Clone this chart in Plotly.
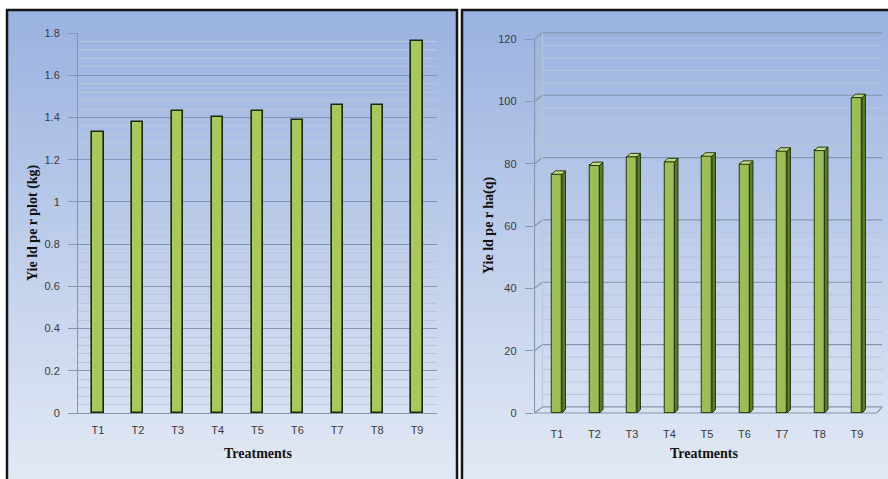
import plotly.graph_objects as go

# ---- data -------------------------------------------------------------
treatments = ["T1", "T2", "T3", "T4", "T5", "T6", "T7", "T8", "T9"]
yield_per_plot = [1.33, 1.38, 1.43, 1.40, 1.43, 1.39, 1.46, 1.46, 1.76]   # kg
yield_per_ha = [76.6, 79.4, 82.2, 80.6, 82.4, 79.8, 84.0, 84.2, 101.2]    # q

plot_ticks = [0, 0.2, 0.4, 0.6, 0.8, 1.0, 1.2, 1.4, 1.6, 1.8]
plot_tick_text = ["0", "0.2", "0.4", "0.6", "0.8", "1", "1.2", "1.4", "1.6", "1.8"]
ha_ticks = [0, 20, 40, 60, 80, 100, 120]
ha_minor_step = 4

# ---- page geometry helpers (pixels -> paper fraction) -----------------
W, H = 888, 479


def px(x):
    return x / W


def py(y):
    return 1 - y / H


TICK_FONT = dict(family="Liberation Sans", size=11, color="#3a3a3a")
TITLE_FONT = dict(family="Liberation Serif", size=14, color="#111111")
MAJOR_GRID = "#8595ae"
MINOR_GRID = "#b9c6da"

xs = list(range(len(treatments)))
fig = go.Figure()

# ---- left panel: yield per plot --------------------------------------
fig.add_trace(go.Bar(
    x=xs, y=yield_per_plot, width=0.28,
    marker=dict(color="#a8c85e", line=dict(color="#1b280a", width=1.6)),
    xaxis="x", yaxis="y", hoverinfo="skip", showlegend=False,
))

# ---- right panel: yield per hectare as 3-D style columns --------------
bw = 0.27          # front face width (category units)
dx3, dy3 = 0.09, 1.1   # depth offset of side/top faces
side_x, side_y, top_x, top_y = [], [], [], []
for i, v in zip(xs, yield_per_ha):
    xl, xr = i - bw / 2, i + bw / 2
    side_x += [xr, xr + dx3, xr + dx3, xr, xr, None]
    side_y += [0, dy3, v + dy3, v, 0, None]
    top_x += [xl, xl + dx3, xr + dx3, xr, xl, None]
    top_y += [v, v + dy3, v + dy3, v, v, None]

fig.add_trace(go.Scatter(
    x=side_x, y=side_y, mode="lines", fill="toself",
    fillcolor="#5e7d27", line=dict(color="#26360c", width=1),
    xaxis="x2", yaxis="y2", hoverinfo="skip", showlegend=False,
))
fig.add_trace(go.Bar(
    x=xs, y=yield_per_ha, width=bw,
    marker=dict(color="#9dbd57", line=dict(color="#26360c", width=1)),
    xaxis="x2", yaxis="y2", hoverinfo="skip", showlegend=False,
))
fig.add_trace(go.Scatter(
    x=top_x, y=top_y, mode="lines", fill="toself",
    fillcolor="#c2db85", line=dict(color="#26360c", width=1),
    xaxis="x2", yaxis="y2", hoverinfo="skip", showlegend=False,
))

shapes = []

# panel backgrounds: vertical blue gradient built from thin bands
top_rgb = (154, 178, 224)
bot_rgb = (226, 233, 245)
n_bands = 70
y_start, y_end = 10, 479
for p0, p1 in [(7, 457), (462, 888)]:
    for k in range(n_bands):
        t = k / (n_bands - 1)
        c = tuple(round(a + (b - a) * t) for a, b in zip(top_rgb, bot_rgb))
        ya = y_start + (y_end - y_start) * k / n_bands
        yb = min(y_end, y_start + (y_end - y_start) * (k + 1) / n_bands + 0.6)
        shapes.append(dict(
            type="rect", xref="paper", yref="paper", layer="below",
            x0=px(p0), x1=px(p1), y0=py(ya), y1=py(yb),
            fillcolor="rgb(%d,%d,%d)" % c, line=dict(width=0),
        ))

# right panel back wall, floor and side wall
xf = -0.6                 # front axis position
xb = xf + 0.21            # back wall left edge
x_end = 8.67
depth = 1.95              # back wall offset in value units
for v in range(0, ha_ticks[-1] + 1, ha_minor_step):
    if v in ha_ticks:
        continue
    shapes.append(dict(type="line", xref="x2", yref="y2", layer="below",
                       x0=xb, x1=x_end, y0=v + depth, y1=v + depth,
                       line=dict(color=MINOR_GRID, width=1)))
for v in ha_ticks:
    shapes.append(dict(type="line", xref="x2", yref="y2", layer="below",
                       x0=xb, x1=x_end, y0=v + depth, y1=v + depth,
                       line=dict(color=MAJOR_GRID, width=1.2)))
    shapes.append(dict(type="line", xref="x2", yref="y2", layer="below",
                       x0=xf, x1=xb, y0=v, y1=v + depth,
                       line=dict(color=MAJOR_GRID, width=1.2)))
shapes.append(dict(type="line", xref="x2", yref="y2", layer="below",
                   x0=xb, x1=xb, y0=depth, y1=ha_ticks[-1] + depth,
                   line=dict(color=MINOR_GRID, width=1)))
shapes.append(dict(type="line", xref="x2", yref="y2", layer="below",
                   x0=xf, x1=xf, y0=0, y1=ha_ticks[-1],
                   line=dict(color=MAJOR_GRID, width=1.2)))
shapes.append(dict(type="path", xref="x2", yref="y2", layer="below",
                   path="M %f,0 L %f,0 L %f,%f" % (xf, x_end - 0.14, x_end, depth),
                   line=dict(color=MAJOR_GRID, width=1.2)))

# panel frames (drawn down past the bottom edge of the page)
for p0, p1 in [(7, 457), (462, 892)]:
    shapes.append(dict(
        type="rect", xref="paper", yref="paper", layer="above",
        x0=px(p0), x1=px(p1), y0=py(10), y1=py(488),
        line=dict(color="#151515", width=2.5), fillcolor="rgba(0,0,0,0)",
    ))

annotations = [
    dict(text="<b>Treatments</b>", x=px(258), y=py(453), xref="paper", yref="paper",
         showarrow=False, font=TITLE_FONT, xanchor="center", yanchor="middle"),
    dict(text="<b>Treatments</b>", x=px(704), y=py(453), xref="paper", yref="paper",
         showarrow=False, font=TITLE_FONT, xanchor="center", yanchor="middle"),
    dict(text="<b>Yie ld pe r plot (kg)</b>", x=px(33), y=py(223), xref="paper", yref="paper",
         showarrow=False, font=TITLE_FONT, textangle=-90, xanchor="center", yanchor="middle"),
    dict(text="<b>Yie ld pe r ha(q)</b>", x=px(489), y=py(225), xref="paper", yref="paper",
         showarrow=False, font=TITLE_FONT, textangle=-90, xanchor="center", yanchor="middle"),
]

# right panel axis scaling: 37.5 px per category, T1 at 557 px; 0 at 413 px, 120 at 39 px
s2 = 37.5
u2 = (413 - 39) / 120.0
x2_range = [-0.62, 8.7]
y2_range = [-1.5, 123.5]

fig.update_layout(
    width=W, height=H, autosize=False,
    margin=dict(l=0, r=0, t=0, b=0, pad=0, autoexpand=False),
    paper_bgcolor="white",
    plot_bgcolor="rgba(0,0,0,0)",
    shapes=shapes,
    annotations=annotations,
    bargap=0,
    xaxis=dict(
        domain=[px(78), px(437)], range=[-0.5, 8.5], automargin=False,
        tickvals=xs, ticktext=treatments, tickfont=TICK_FONT,
        showgrid=False, zeroline=False, showline=True, linecolor=MAJOR_GRID,
        ticks="", ticklabelstandoff=7, fixedrange=True,
    ),
    yaxis=dict(
        domain=[py(413), py(33)], range=[0, 1.8], anchor="x", automargin=False,
        tickvals=plot_ticks, ticktext=plot_tick_text, tickfont=TICK_FONT,
        showgrid=True, gridcolor=MAJOR_GRID, gridwidth=1.2,
        minor=dict(dtick=0.04, showgrid=True, gridcolor=MINOR_GRID, gridwidth=1),
        zeroline=False, showline=True, linecolor=MAJOR_GRID,
        ticks="outside", ticklen=9, tickcolor=MAJOR_GRID, ticklabelstandoff=6,
        fixedrange=True,
    ),
    xaxis2=dict(
        domain=[px(557 + x2_range[0] * s2), px(857 + (x2_range[1] - 8) * s2)],
        range=x2_range, anchor="y2", automargin=False,
        tickvals=xs, ticktext=treatments, tickfont=TICK_FONT,
        showgrid=False, zeroline=False, showline=False,
        ticks="", ticklabelstandoff=8, fixedrange=True,
    ),
    yaxis2=dict(
        domain=[py(413 - y2_range[0] * u2), py(413 - y2_range[1] * u2)],
        range=y2_range, anchor="x2", automargin=False,
        tickvals=ha_ticks, tickfont=TICK_FONT,
        showgrid=False, zeroline=False, showline=False,
        ticks="outside", ticklen=8, tickcolor=MAJOR_GRID, ticklabelstandoff=6,
        fixedrange=True,
    ),
)

fig.write_html("out.html", config={"displayModeBar": False})
